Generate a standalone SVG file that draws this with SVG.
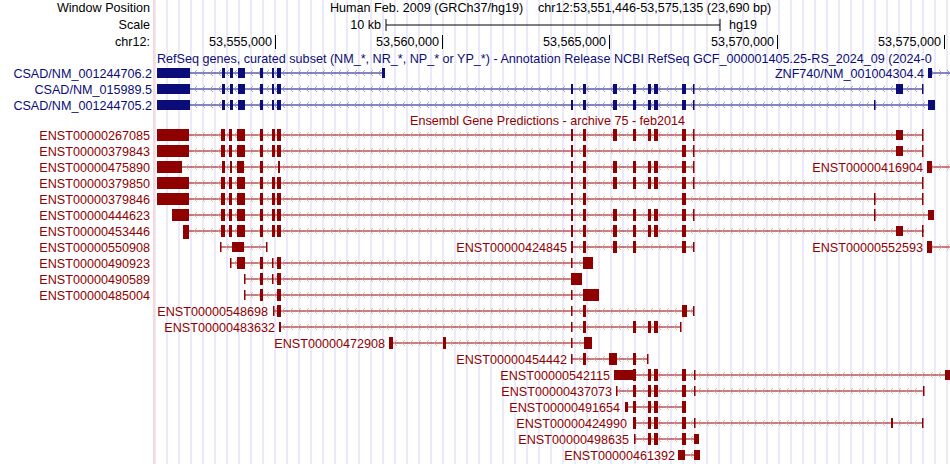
<svg xmlns="http://www.w3.org/2000/svg" width="950" height="464" viewBox="0 0 950 464">
<style>
text{font-family:"Liberation Sans",Arial,sans-serif;font-size:12.6px}
.h{fill:#000}
.b{fill:#0c0c78}
.r{fill:#8f0000}
.lb{stroke:#0c0c78;stroke-width:1}
.lr{stroke:#8f0000;stroke-width:1}
.eb rect{fill:#0c0c78}
.er rect{fill:#8f0000}
</style>
<defs>
<pattern id="grid" patternUnits="userSpaceOnUse" x="0" y="0" width="12" height="464">
<rect x="10.5" y="0" width="1" height="464" fill="#d9d4f4"/>
</pattern>
<pattern id="cr" patternUnits="userSpaceOnUse" width="8" height="16">
<path d="M5,4 L2,7 L5,10" fill="none" stroke="#e39a9a" stroke-width="0.8"/>
</pattern>
<pattern id="crR" patternUnits="userSpaceOnUse" width="8" height="16">
<path d="M3,4 L6,7 L3,10" fill="none" stroke="#e39a9a" stroke-width="0.8"/>
</pattern>
<pattern id="cb" patternUnits="userSpaceOnUse" width="8" height="16">
<path d="M5,6 L2,9 L5,12" fill="none" stroke="#8a8ac8" stroke-width="0.8"/>
</pattern>
<pattern id="cbR" patternUnits="userSpaceOnUse" width="8" height="16">
<path d="M3,6 L6,9 L3,12" fill="none" stroke="#8a8ac8" stroke-width="0.8"/>
</pattern>
</defs>
<rect width="950" height="464" fill="#fff"/>
<rect x="155" y="0" width="795" height="464" fill="url(#grid)"/>
<rect x="153.5" y="0" width="1" height="464" fill="#f0b4b4"/>

<g id="header">
<text class="h" x="150" y="12" text-anchor="end">Window Position</text>
<text class="h" x="150" y="29" text-anchor="end">Scale</text>
<text class="h" x="150" y="46" text-anchor="end">chr12:</text>
<text class="h" x="330" y="12">Human Feb. 2009 (GRCh37/hg19)</text>
<text class="h" x="538" y="12">chr12:53,551,446-53,575,135 (23,690 bp)</text>
<text class="h" x="381" y="29" text-anchor="end">10 kb</text>
<text class="h" x="729" y="29">hg19</text>
<path d="M386,19V31M386,25H720M720,19V31" stroke="#000" fill="none"/>
<g stroke="#000"><path d="M275.5,35V49M442.5,35V49M609.5,35V49M777.5,35V49M944.5,35V49"/></g>
<text class="h" x="272" y="46" text-anchor="end">53,555,000</text>
<text class="h" x="439" y="46" text-anchor="end">53,560,000</text>
<text class="h" x="606" y="46" text-anchor="end">53,565,000</text>
<text class="h" x="774" y="46" text-anchor="end">53,570,000</text>
<text class="h" x="941" y="46" text-anchor="end">53,575,000</text>
</g>

<g id="connectors">
<path class="lb" d="M190,73H385M190,89H923M190,105H935M932,73H950"/>
<rect x="190" y="69" width="195" height="8" fill="url(#cb)"/>
<rect x="190" y="85" width="733" height="8" fill="url(#cb)"/>
<rect x="190" y="101" width="745" height="8" fill="url(#cb)"/>
<rect x="932" y="69" width="18" height="8" fill="url(#cbR)"/>
<path class="lr" d="M189,135H923M189,151H923M182,167H694M932,167H950M189,183H923M189,199H923M189,215H934M189,231H924M221,247H267M572,247H694M932,247H950M231,263H590M245,279H580M245,295H595M273,311H694M280,327H681M389,343H590M572,359H648M634,375H950M616,391H924M626,407H686M634,423H923M635,439H699M684,455H694"/>
<g>
<rect x="189" y="131" width="734" height="8" fill="url(#cr)"/>
<rect x="189" y="147" width="734" height="8" fill="url(#cr)"/>
<rect x="182" y="163" width="512" height="8" fill="url(#cr)"/>
<rect x="932" y="163" width="18" height="8" fill="url(#crR)"/>
<rect x="189" y="179" width="734" height="8" fill="url(#cr)"/>
<rect x="189" y="195" width="734" height="8" fill="url(#cr)"/>
<rect x="189" y="211" width="745" height="8" fill="url(#cr)"/>
<rect x="189" y="227" width="735" height="8" fill="url(#cr)"/>
<rect x="221" y="243" width="46" height="8" fill="url(#cr)"/>
<rect x="572" y="243" width="122" height="8" fill="url(#cr)"/>
<rect x="932" y="243" width="18" height="8" fill="url(#crR)"/>
<rect x="231" y="259" width="355" height="8" fill="url(#cr)"/>
<rect x="245" y="275" width="330" height="8" fill="url(#cr)"/>
<rect x="245" y="291" width="340" height="8" fill="url(#cr)"/>
<rect x="273" y="307" width="421" height="8" fill="url(#cr)"/>
<rect x="280" y="323" width="401" height="8" fill="url(#cr)"/>
<rect x="389" y="339" width="195" height="8" fill="url(#cr)"/>
<rect x="572" y="355" width="76" height="8" fill="url(#cr)"/>
<rect x="634" y="371" width="312" height="8" fill="url(#cr)"/>
<rect x="616" y="387" width="308" height="8" fill="url(#cr)"/>
<rect x="626" y="403" width="58" height="8" fill="url(#cr)"/>
<rect x="634" y="419" width="289" height="8" fill="url(#cr)"/>
<rect x="635" y="435" width="59" height="8" fill="url(#cr)"/>
<rect x="684" y="451" width="10" height="8" fill="url(#cr)"/>
</g>
</g>

<text class="b" x="157" y="63">RefSeq genes, curated subset (NM_*, NR_*, NP_* or YP_*) - Annotation Release NCBI RefSeq GCF_000001405.25-RS_2024_09 (2024-0</text>
<text class="r" x="410" y="125">Ensembl Gene Predictions - archive 75 - feb2014</text>

<g id="NM_001244706.2" class="eb">
<text class="b" x="152" y="77.5" text-anchor="end">CSAD/NM_001244706.2</text>
<rect x="157" y="68" width="33" height="10"/><rect x="222" y="68" width="3" height="10"/><rect x="230" y="68" width="3" height="10"/><rect x="238" y="68" width="7" height="10"/><rect x="260" y="68" width="3" height="10"/><rect x="272" y="68" width="2" height="10"/><rect x="277" y="68" width="4" height="10"/><rect x="382" y="68" width="3" height="10"/>
</g>
<g id="NM_015989.5" class="eb">
<text class="b" x="152" y="93.5" text-anchor="end">CSAD/NM_015989.5</text>
<rect x="157" y="84" width="33" height="10"/><rect x="222" y="84" width="3" height="10"/><rect x="230" y="84" width="3" height="10"/><rect x="238" y="84" width="7" height="10"/><rect x="260" y="84" width="3" height="10"/><rect x="272" y="84" width="2" height="10"/><rect x="277" y="84" width="4" height="10"/>
<rect x="571" y="84" width="2" height="10"/><rect x="583" y="84" width="3" height="10"/><rect x="613" y="84" width="4" height="10"/><rect x="633" y="84" width="3" height="10"/><rect x="648" y="84" width="3" height="10"/><rect x="654" y="84" width="4" height="10"/><rect x="682" y="84" width="4" height="10"/><rect x="693" y="84" width="1.5" height="10"/><rect x="896" y="84" width="7" height="10"/><rect x="922" y="84" width="1.5" height="10"/>
</g>
<g id="NM_001244705.2" class="eb">
<text class="b" x="152" y="109.5" text-anchor="end">CSAD/NM_001244705.2</text>
<rect x="157" y="100" width="33" height="10"/><rect x="222" y="100" width="3" height="10"/><rect x="230" y="100" width="3" height="10"/><rect x="238" y="100" width="7" height="10"/><rect x="260" y="100" width="3" height="10"/><rect x="272" y="100" width="2" height="10"/><rect x="277" y="100" width="4" height="10"/>
<rect x="571" y="100" width="2" height="10"/><rect x="583" y="100" width="3" height="10"/><rect x="613" y="100" width="4" height="10"/><rect x="633" y="100" width="3" height="10"/><rect x="648" y="100" width="3" height="10"/><rect x="654" y="100" width="4" height="10"/><rect x="682" y="100" width="4" height="10"/><rect x="693" y="100" width="1.5" height="10"/><rect x="874" y="100" width="1.5" height="10"/><rect x="928" y="100" width="7" height="10"/>
</g>
<g id="NM_001004304.4" class="eb">
<text class="b" x="924" y="77.5" text-anchor="end">ZNF740/NM_001004304.4</text>
<rect x="928" y="68" width="4" height="10"/>
</g>

<g id="ENST00000267085" class="er">
<text class="r" x="150" y="139.5" text-anchor="end">ENST00000267085</text>
<rect x="157" y="129" width="32" height="12"/><rect x="221" y="129" width="4" height="12"/><rect x="229" y="129" width="3" height="12"/><rect x="237" y="129" width="8" height="12"/><rect x="260" y="129" width="3" height="12"/><rect x="272" y="129" width="3" height="12"/><rect x="277" y="129" width="4" height="12"/><rect x="571" y="129" width="2" height="12"/><rect x="583" y="129" width="3" height="12"/><rect x="613" y="129" width="4" height="12"/><rect x="633" y="129" width="3" height="12"/><rect x="648" y="129" width="3" height="12"/><rect x="654" y="129" width="4" height="12"/><rect x="682" y="129" width="4" height="12"/><rect x="693" y="129" width="1.5" height="12"/><rect x="896" y="130" width="7" height="10"/><rect x="922" y="129" width="1.5" height="12"/>
</g>
<g id="ENST00000379843" class="er">
<text class="r" x="150" y="155.5" text-anchor="end">ENST00000379843</text>
<rect x="157" y="145" width="32" height="12"/><rect x="221" y="145" width="4" height="12"/><rect x="229" y="145" width="3" height="12"/><rect x="237" y="145" width="8" height="12"/><rect x="260" y="145" width="3" height="12"/><rect x="272" y="145" width="3" height="12"/><rect x="277" y="145" width="4" height="12"/><rect x="571" y="145" width="2" height="12"/><rect x="583" y="145" width="3" height="12"/><rect x="682" y="145" width="4" height="12"/><rect x="693" y="145" width="1.5" height="12"/><rect x="896" y="146" width="7" height="10"/><rect x="922" y="145" width="1.5" height="12"/>
</g>
<g id="ENST00000475890" class="er">
<text class="r" x="150" y="171.5" text-anchor="end">ENST00000475890</text>
<rect x="157" y="161" width="25" height="12"/><rect x="222" y="161" width="3" height="12"/><rect x="230" y="161" width="2" height="12"/><rect x="237" y="161" width="7" height="12"/><rect x="260" y="161" width="3" height="12"/><rect x="278" y="161" width="2" height="12"/><rect x="571" y="161" width="2" height="12"/><rect x="583" y="161" width="3" height="12"/><rect x="613" y="161" width="4" height="12"/><rect x="633" y="161" width="3" height="12"/><rect x="648" y="161" width="3" height="12"/><rect x="654" y="161" width="4" height="12"/><rect x="682" y="161" width="4" height="12"/><rect x="693" y="161" width="1.5" height="12"/>
</g>
<g id="ENST00000416904" class="er">
<text class="r" x="923" y="171.5" text-anchor="end">ENST00000416904</text>
<rect x="927" y="161" width="5" height="12"/>
</g>
<g id="ENST00000379850" class="er">
<text class="r" x="150" y="187.5" text-anchor="end">ENST00000379850</text>
<rect x="157" y="177" width="32" height="12"/><rect x="221" y="177" width="4" height="12"/><rect x="229" y="177" width="3" height="12"/><rect x="237" y="177" width="8" height="12"/><rect x="260" y="177" width="3" height="12"/><rect x="272" y="177" width="3" height="12"/><rect x="277" y="177" width="4" height="12"/><rect x="571" y="177" width="2" height="12"/><rect x="583" y="177" width="3" height="12"/><rect x="613" y="177" width="4" height="12"/><rect x="633" y="177" width="3" height="12"/><rect x="648" y="177" width="3" height="12"/><rect x="654" y="177" width="4" height="12"/><rect x="682" y="177" width="4" height="12"/><rect x="693" y="177" width="1.5" height="12"/><rect x="922" y="177" width="1.5" height="12"/>
</g>
<g id="ENST00000379846" class="er">
<text class="r" x="150" y="203.5" text-anchor="end">ENST00000379846</text>
<rect x="157" y="193" width="32" height="12"/><rect x="221" y="193" width="4" height="12"/><rect x="229" y="193" width="3" height="12"/><rect x="237" y="193" width="8" height="12"/><rect x="260" y="193" width="3" height="12"/><rect x="272" y="193" width="3" height="12"/><rect x="277" y="193" width="4" height="12"/><rect x="571" y="193" width="2" height="12"/><rect x="583" y="193" width="3" height="12"/><rect x="682" y="193" width="4" height="12"/><rect x="874" y="193" width="1.5" height="12"/><rect x="922" y="193" width="1.5" height="12"/>
</g>
<g id="ENST00000444623" class="er">
<text class="r" x="150" y="219.5" text-anchor="end">ENST00000444623</text>
<rect x="172" y="209" width="17" height="12"/><rect x="221" y="209" width="4" height="12"/><rect x="229" y="209" width="3" height="12"/><rect x="237" y="209" width="8" height="12"/><rect x="260" y="209" width="3" height="12"/><rect x="272" y="209" width="3" height="12"/><rect x="277" y="209" width="4" height="12"/><rect x="571" y="209" width="2" height="12"/><rect x="583" y="209" width="3" height="12"/><rect x="613" y="209" width="4" height="12"/><rect x="633" y="209" width="3" height="12"/><rect x="648" y="209" width="3" height="12"/><rect x="654" y="209" width="4" height="12"/><rect x="682" y="209" width="4" height="12"/><rect x="693" y="209" width="1.5" height="12"/><rect x="874" y="209" width="1.5" height="12"/><rect x="928" y="210" width="6" height="10"/>
</g>
<g id="ENST00000453446" class="er">
<text class="r" x="150" y="235.5" text-anchor="end">ENST00000453446</text>
<rect x="183" y="225" width="6" height="14"/><rect x="221" y="225" width="4" height="12"/><rect x="229" y="225" width="3" height="12"/><rect x="237" y="225" width="8" height="12"/><rect x="260" y="225" width="3" height="12"/><rect x="272" y="225" width="3" height="12"/><rect x="277" y="225" width="4" height="12"/><rect x="571" y="225" width="2" height="12"/><rect x="583" y="225" width="3" height="12"/><rect x="613" y="225" width="4" height="12"/><rect x="633" y="225" width="3" height="12"/><rect x="648" y="225" width="3" height="12"/><rect x="654" y="225" width="4" height="12"/><rect x="682" y="225" width="4" height="12"/><rect x="896" y="226" width="7" height="10"/><rect x="922" y="225" width="1.5" height="12"/>
</g>
<g id="ENST00000550908" class="er">
<text class="r" x="150" y="251.5" text-anchor="end">ENST00000550908</text>
<rect x="220" y="242" width="1.5" height="10"/><rect x="232" y="242" width="12" height="10"/><rect x="266" y="242" width="1.5" height="10"/>
</g>
<g id="ENST00000424845" class="er">
<text class="r" x="567" y="251.5" text-anchor="end">ENST00000424845</text>
<rect x="571" y="241" width="2" height="12"/><rect x="583" y="241" width="3" height="12"/><rect x="613" y="241" width="4" height="12"/><rect x="633" y="241" width="3" height="12"/><rect x="682" y="241" width="4" height="12"/><rect x="693" y="242" width="1.5" height="10"/>
</g>
<g id="ENST00000552593" class="er">
<text class="r" x="923" y="251.5" text-anchor="end">ENST00000552593</text>
<rect x="927" y="241" width="5" height="12"/>
</g>
<g id="ENST00000490923" class="er">
<text class="r" x="150" y="267.5" text-anchor="end">ENST00000490923</text>
<rect x="230" y="258" width="1.5" height="10"/><rect x="237" y="257" width="8" height="12"/><rect x="260" y="257" width="3" height="12"/><rect x="272" y="258" width="1.5" height="10"/><rect x="277" y="257" width="4" height="12"/><rect x="571" y="258" width="1.5" height="10"/><rect x="583" y="257" width="10" height="12"/>
</g>
<g id="ENST00000490589" class="er">
<text class="r" x="150" y="283.5" text-anchor="end">ENST00000490589</text>
<rect x="244" y="274" width="1.5" height="10"/><rect x="260" y="273" width="3" height="12"/><rect x="272" y="274" width="1.5" height="10"/><rect x="277" y="273" width="4" height="12"/><rect x="571" y="273" width="11" height="12"/>
</g>
<g id="ENST00000485004" class="er">
<text class="r" x="150" y="299.5" text-anchor="end">ENST00000485004</text>
<rect x="244" y="290" width="1.5" height="10"/><rect x="260" y="289" width="3" height="12"/><rect x="277" y="289" width="4" height="12"/><rect x="571" y="290" width="1.5" height="10"/><rect x="583" y="289" width="16" height="12"/>
</g>
<g id="ENST00000548698" class="er">
<text class="r" x="268" y="315.5" text-anchor="end">ENST00000548698</text>
<rect x="273" y="306" width="1.5" height="10"/><rect x="277" y="305" width="4" height="12"/><rect x="571" y="306" width="1.5" height="10"/><rect x="583" y="305" width="3" height="12"/><rect x="682" y="305" width="5" height="12"/><rect x="693" y="306" width="1.5" height="10"/>
</g>
<g id="ENST00000483632" class="er">
<text class="r" x="275" y="331.5" text-anchor="end">ENST00000483632</text>
<rect x="279" y="322" width="2" height="10"/><rect x="571" y="322" width="1.5" height="10"/><rect x="583" y="321" width="3" height="12"/><rect x="633" y="321" width="3" height="12"/><rect x="648" y="321" width="3" height="12"/><rect x="654" y="321" width="4" height="12"/><rect x="680" y="322" width="1.5" height="10"/>
</g>
<g id="ENST00000472908" class="er">
<text class="r" x="385" y="347.5" text-anchor="end">ENST00000472908</text>
<rect x="389" y="337" width="4" height="12"/><rect x="443" y="337" width="3" height="12"/><rect x="571" y="338" width="1.5" height="10"/><rect x="584" y="337" width="8" height="12"/>
</g>
<g id="ENST00000454442" class="er">
<text class="r" x="567" y="363.5" text-anchor="end">ENST00000454442</text>
<rect x="571" y="354" width="1.5" height="10"/><rect x="583" y="353" width="3" height="12"/><rect x="609" y="353" width="8" height="12"/><rect x="633" y="353" width="3" height="12"/><rect x="647" y="354" width="1.5" height="10"/>
</g>
<g id="ENST00000542115" class="er">
<text class="r" x="610" y="379.5" text-anchor="end">ENST00000542115</text>
<rect x="614" y="370" width="20" height="10"/><rect x="633" y="369" width="3" height="12"/><rect x="648" y="369" width="3" height="12"/><rect x="654" y="369" width="4" height="12"/><rect x="682" y="369" width="4" height="12"/><rect x="694" y="370" width="1.5" height="10"/><rect x="945" y="370" width="5" height="10"/>
</g>
<g id="ENST00000437073" class="er">
<text class="r" x="612" y="395.5" text-anchor="end">ENST00000437073</text>
<rect x="616" y="386" width="1.5" height="10"/><rect x="633" y="385" width="3" height="12"/><rect x="648" y="385" width="3" height="12"/><rect x="654" y="385" width="4" height="12"/><rect x="682" y="385" width="4" height="12"/><rect x="694" y="386" width="1.5" height="10"/><rect x="923" y="386" width="1.5" height="10"/>
</g>
<g id="ENST00000491654" class="er">
<text class="r" x="620" y="411.5" text-anchor="end">ENST00000491654</text>
<rect x="625" y="402" width="3" height="10"/><rect x="633" y="401" width="3" height="12"/><rect x="648" y="401" width="3" height="12"/><rect x="654" y="401" width="4" height="12"/><rect x="682" y="401" width="4" height="12"/>
</g>
<g id="ENST00000424990" class="er">
<text class="r" x="627" y="427.5" text-anchor="end">ENST00000424990</text>
<rect x="633" y="417" width="3" height="12"/><rect x="648" y="417" width="3" height="12"/><rect x="654" y="417" width="4" height="12"/><rect x="682" y="417" width="4" height="12"/><rect x="694" y="418" width="1.5" height="10"/><rect x="891" y="418" width="2" height="10"/><rect x="922" y="418" width="1.5" height="10"/>
</g>
<g id="ENST00000498635" class="er">
<text class="r" x="629" y="443.5" text-anchor="end">ENST00000498635</text>
<rect x="634" y="434" width="1.5" height="10"/><rect x="648" y="433" width="3" height="12"/><rect x="654" y="433" width="4" height="12"/><rect x="682" y="433" width="4" height="12"/><rect x="694" y="434" width="5" height="10"/>
</g>
<g id="ENST00000461392" class="er">
<text class="r" x="675" y="459.5" text-anchor="end">ENST00000461392</text>
<rect x="678" y="450" width="7" height="10"/><rect x="694" y="450" width="6" height="10"/>
</g>
</svg>
